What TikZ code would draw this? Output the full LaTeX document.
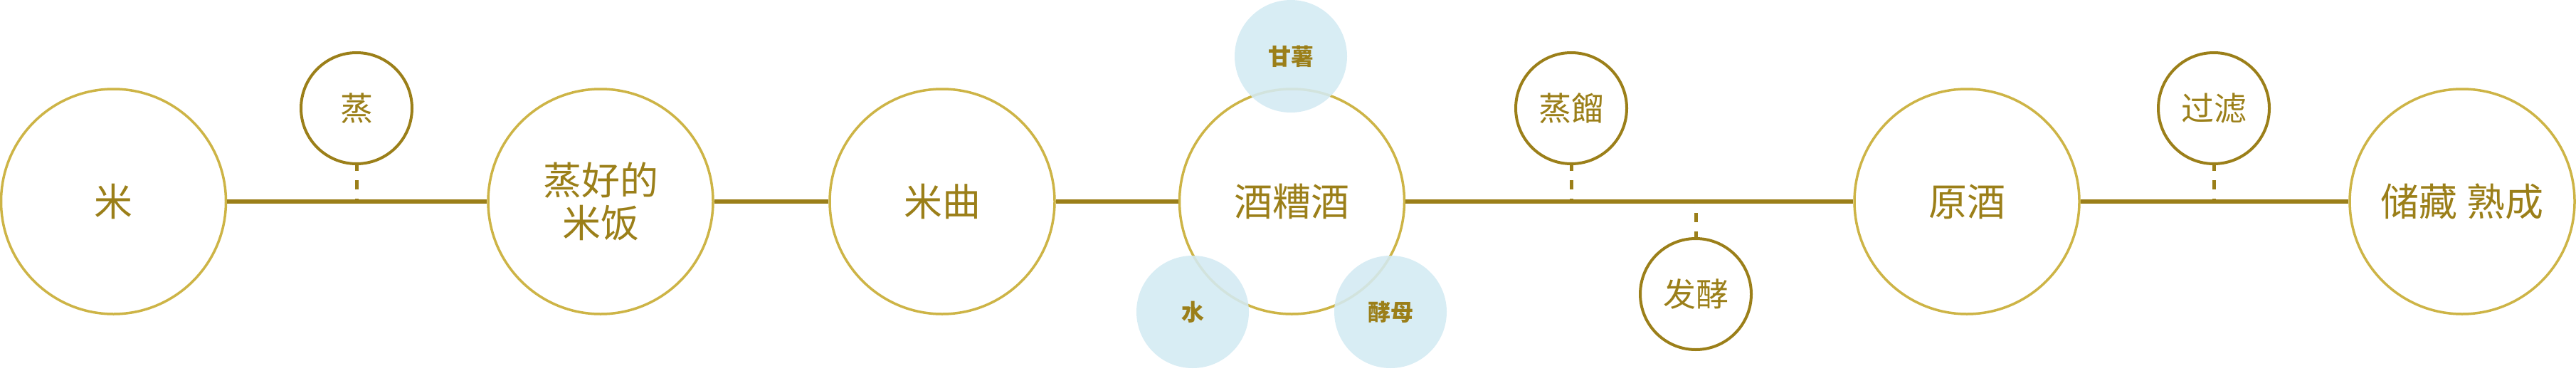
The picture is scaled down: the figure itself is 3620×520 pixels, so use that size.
\documentclass[tikz,border=0pt]{standalone}
\usepackage{fontspec}
\setmainfont{Noto Sans CJK SC}
\newfontfamily\cjk{Noto Sans CJK SC}
\definecolor{darkgold}{HTML}{9B7F19}
\definecolor{lightgold}{HTML}{CDB446}
\definecolor{paleblue}{HTML}{D3EAF3}
\begin{document}
\begin{tikzpicture}[x=1pt,y=1pt,
  bigc/.style={circle,draw=lightgold,line width=3.5pt,fill=white,minimum size=316pt,inner sep=0pt,
    text=darkgold,font=\cjk\fontsize{54}{60}\selectfont,align=center},
  smallc/.style={circle,draw=darkgold,line width=4pt,fill=white,minimum size=156pt,inner sep=0pt,
    text=darkgold,font=\cjk\fontsize{46}{52}\selectfont},
  bluec/.style={circle,fill=paleblue,fill opacity=0.88,text opacity=1,minimum size=158pt,inner sep=0pt,
    text=darkgold,font=\cjk\bfseries\fontsize{32}{36}\selectfont},
  mainline/.style={draw=darkgold,line width=6.5pt},
  dashline/.style={draw=darkgold,line width=5pt,dash pattern=on 13pt off 13pt,dash phase=5pt}]
\useasboundingbox (0,0) rectangle (3620,-520);
% main nodes
\node[bigc] (rice) at (159.5,-283) {米};
\node[bigc] (cooked) at (844,-283) {蒸好的\\米饭};
\node[bigc] (koji) at (1324,-283) {米曲};
\node[bigc] (kasu) at (1815.5,-283) {酒糟酒};
\node[bigc] (genshu) at (2764,-283) {原酒};
\node[bigc] (store) at (3460,-283) {储藏 熟成};
% main line
\draw[mainline] (rice.east) -- (cooked.west);
\draw[mainline] (cooked.east) -- (koji.west);
\draw[mainline] (koji.east) -- (kasu.west);
\draw[mainline] (kasu.east) -- (genshu.west);
\draw[mainline] (genshu.east) -- (store.west);
% small process nodes
\node[smallc] (steam) at (501,-152) {蒸};
\node[smallc] (distill) at (2208,-152) {蒸餾};
\node[smallc] (ferment) at (2383,-413) {发酵};
\node[smallc] (filter) at (3111,-152) {过滤};
\coordinate (p1) at (501,-282);
\coordinate (p2) at (2208,-282);
\coordinate (p3) at (2383,-284);
\coordinate (p4) at (3111,-282);
\draw[dashline] (steam.south) -- (p1);
\draw[dashline] (distill.south) -- (p2);
\draw[dashline] (ferment.north) -- (p3);
\draw[dashline] (filter.south) -- (p4);
% ingredients
\node[bluec] (imo) at (1814,-79) {甘薯};
\node[bluec] (water) at (1676,-438) {水};
\node[bluec] (yeast) at (1954,-438) {酵母};
\end{tikzpicture}
\end{document}
